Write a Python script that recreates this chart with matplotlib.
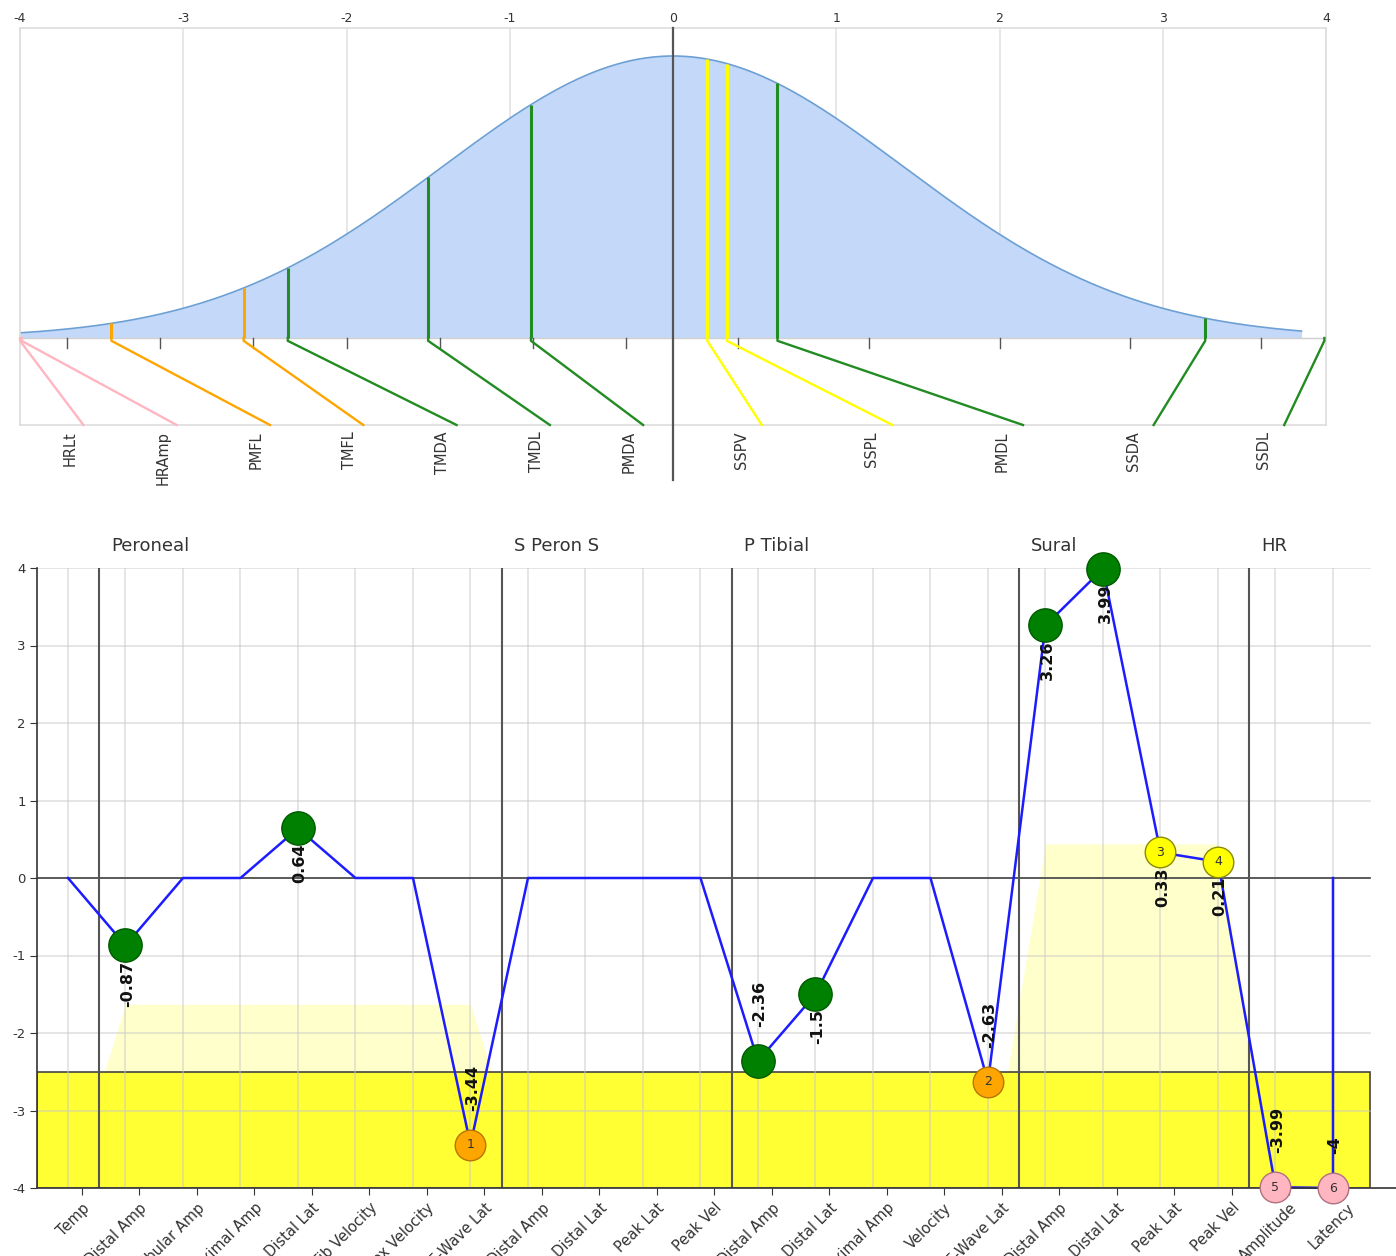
import numpy as np
import matplotlib
matplotlib.use("Agg")
import matplotlib.pyplot as plt
from matplotlib.patches import Rectangle

# ---------------- data ----------------
categories = ["Temp", "Distal Amp", "Fibular Amp", "Proximal Amp", "Distal Lat",
              "Fib Velocity", "Prox Velocity", "F-Wave Lat",
              "Distal Amp", "Distal Lat", "Peak Lat", "Peak Vel",
              "Distal Amp", "Distal Lat", "Proximal Amp", "Velocity", "F-Wave Lat",
              "Distal Amp", "Distal Lat", "Peak Lat", "Peak Vel",
              "Amplitude", "Latency"]
values = [0, -0.87, 0, 0, 0.64, 0, 0, -3.44,
          0, 0, 0, 0,
          -2.36, -1.5, 0, 0, -2.63,
          3.26, 3.99, 0.33, 0.21,
          -3.99, -4]
codes = ["", "PMDA", "", "", "PMDL", "", "", "PMFL",
         "", "", "", "",
         "TMDA", "TMDL", "", "", "TMFL",
         "SSDA", "SSDL", "SSPL", "SSPV",
         "HRAmp", "HRLt"]
status = ["", "n", "", "", "n", "", "", "a",
          "", "", "", "",
          "n", "n", "", "", "a",
          "n", "n", "b", "b",
          "h", "h"]
line_end_value = 0
groups = ["Peroneal", "S Peron S", "P Tibial", "Sural", "HR"]
group_starts = [1, 8, 12, 17, 21]
band_top = [-4, -1.63, -1.63, -1.63, -1.63, -1.63, -1.63, -1.63,
            -4, -4, -4, -4,
            -4, -4, -4, -4, -4,
            0.44, 0.44, 0.44, 0.44,
            -4, -4]
abnormal_limit = -2.5
z_ticks = [-4, -3, -2, -1, 0, 1, 2, 3, 4]

# ---------------- styles ----------------
fill_col = {"n": "#008000", "a": "#ffa500", "b": "#ffff00", "h": "#ffb6c1"}
edge_col = {"n": "#005a00", "a": "#b87400", "b": "#8a8a00", "h": "#b07080"}
line_col = {"n": "#228b22", "a": "#ffa500", "b": "#ffff00", "h": "#ffb6c1"}

W, H = 1396, 1256
fig = plt.figure(figsize=(W / 100, H / 100), dpi=100)
fig.patch.set_facecolor("white")
plt.rcParams["font.family"] = ["DejaVu Sans"]


def fx(px):
    return px / W


def fy(py):
    return 1 - py / H


# ================= top: bell curve =================
axt = fig.add_axes([fx(20), fy(425), fx(1326) - fx(20), fy(28) - fy(425)])
ytop = (338 - 28) / 282
ybot = -(425 - 338) / 282
axt.set_xlim(-4, 4)
axt.set_ylim(ybot, ytop)
for s in axt.spines.values():
    s.set_color("#dddddd")
    s.set_linewidth(1.2)
axt.xaxis.tick_top()
axt.set_xticks(z_ticks)
axt.set_xticklabels([str(t) for t in z_ticks], fontsize=9, color="#333333")
axt.tick_params(axis="x", length=0, pad=2)
axt.set_yticks([])

for t in z_ticks:
    if t != 0:
        axt.plot([t, t], [0, ytop], color="#e3e3e3", lw=1.2, zorder=0)

xs = np.linspace(-4, 3.85, 500)
curve = np.exp(-xs ** 2 / 4)
axt.fill_between(xs, 0, curve, color="#c4d9f9", zorder=1, lw=0)
axt.plot(xs, curve, color="#6c9fd3", lw=1.2, zorder=2)
axt.axhline(0, color="#d0d0d0", lw=1.0, zorder=1)

# markers sorted by value, split negative / positive
idx = [i for i, v in enumerate(values) if v != 0]
neg = sorted([i for i in idx if values[i] < 0], key=lambda i: values[i])
pos = sorted([i for i in idx if values[i] > 0], key=lambda i: values[i])


def place(lst, start, span):
    n = len(lst)
    sp = span / n
    for k, i in enumerate(lst):
        v = values[i]
        c = line_col[status[i]]
        center = start + sp * (k + 0.5)
        end = center + 0.18 * sp
        h = np.exp(-v ** 2 / 4) if abs(v) <= 3.85 else 0
        axt.plot([v, v], [0, h], color=c, lw=2.2, zorder=3, solid_capstyle="butt")
        axt.plot([v, v, end], [0, -0.01, ybot], color=c, lw=1.7, zorder=3,
                 clip_on=False)
        axt.plot([center, center], [0, -0.035], color="#555555", lw=1.0, zorder=3)
        axt.annotate(codes[i], xy=(center, ybot), xytext=(3, -6),
                     textcoords="offset pixels", rotation=90, ha="center",
                     va="top", fontsize=10.5, color="#333333",
                     annotation_clip=False)


place(neg, -4, 4)
place(pos, 0, 4)

axt.plot([0, 0], [ytop, -(480 - 338) / 282], color="#555555", lw=1.6,
         zorder=4, clip_on=False)

# ================= bottom: profile =================
axb = fig.add_axes([fx(37), fy(1188), fx(1396) - fx(37), fy(568) - fy(1188)])
x0 = -(68 - 37) / 57.5
x1 = (1396 - 68) / 57.5
xr = (1370 - 68) / 57.5
axb.set_xlim(x0, x1)
axb.set_ylim(-4, 4)
for k in ["top", "right"]:
    axb.spines[k].set_visible(False)
for k in ["left", "bottom"]:
    axb.spines[k].set_color("#333333")
    axb.spines[k].set_linewidth(1.2)

n = len(categories)
xi = np.arange(n)

# pale band (area)
axb.fill_between(xi, -4, band_top, color="#ffffcc", lw=0, zorder=0.4)
# abnormal zone
axb.add_patch(Rectangle((x0, -4), xr - x0, abnormal_limit + 4,
                        facecolor="#ffff33", edgecolor="#444444", lw=1.2,
                        zorder=0.6))

# grid
for t in range(-4, 5):
    axb.plot([x0, xr], [t, t], color="#c8c8c8", alpha=0.55, lw=1.2, zorder=0.8)
for i in xi:
    axb.plot([i, i], [-4, 4], color="#c8c8c8", alpha=0.55, lw=1.2, zorder=0.8)
axb.plot([x0, xr], [0, 0], color="#444444", lw=1.2, zorder=1)

# group separators and labels
for g, s in zip(groups, group_starts):
    sx = s - 0.46
    axb.plot([sx, sx], [-4, 4], color="#555555", lw=1.5, zorder=1)
    axb.text(sx + 0.21, 4.28, g, ha="left", va="center", fontsize=13,
             color="#333333")

# ticks
axb.set_yticks(range(-4, 5))
axb.set_yticklabels([str(t) for t in range(-4, 5)], fontsize=9.5,
                    color="#333333")
axb.tick_params(axis="y", length=5, color="#333333", pad=3)
axb.set_xticks(xi + 0.24)
axb.set_xticklabels(categories, rotation=45, ha="right",
                    rotation_mode="anchor", fontsize=10.5, color="#333333")
axb.tick_params(axis="x", length=5, color="#333333", pad=4)

# line
lx = list(xi) + [xi[-1]]
ly = list(values) + [line_end_value]
axb.plot(lx, ly, color="#1c1cff", lw=1.8, zorder=2, clip_on=False)

num = 0
for i, v in enumerate(values):
    if status[i] == "":
        continue
    st = status[i]
    if st == "n":
        axb.plot(i, v, "o", ms=24, mfc=fill_col[st], mec=edge_col[st], mew=1,
                 zorder=3, clip_on=False)
    else:
        num += 1
        axb.plot(i, v, "o", ms=22, mfc=fill_col[st], mec=edge_col[st], mew=1,
                 zorder=3, clip_on=False)
        axb.text(i, v, str(num), ha="center", va="center", fontsize=9,
                 color="#333333", zorder=4, clip_on=False)
    lab = f"{v:g}"
    if v < -2:
        axb.annotate(lab, xy=(i, v), xytext=(2, 34), textcoords="offset pixels",
                     rotation=90, ha="center", va="bottom", fontsize=11.5,
                     fontweight="bold", color="#111111", zorder=5,
                     annotation_clip=False)
    else:
        axb.annotate(lab, xy=(i, v), xytext=(2, -15), textcoords="offset pixels",
                     rotation=90, ha="center", va="top", fontsize=11.5,
                     fontweight="bold", color="#111111", zorder=5,
                     annotation_clip=False)

fig.savefig("out.png", dpi=100, facecolor="white")
